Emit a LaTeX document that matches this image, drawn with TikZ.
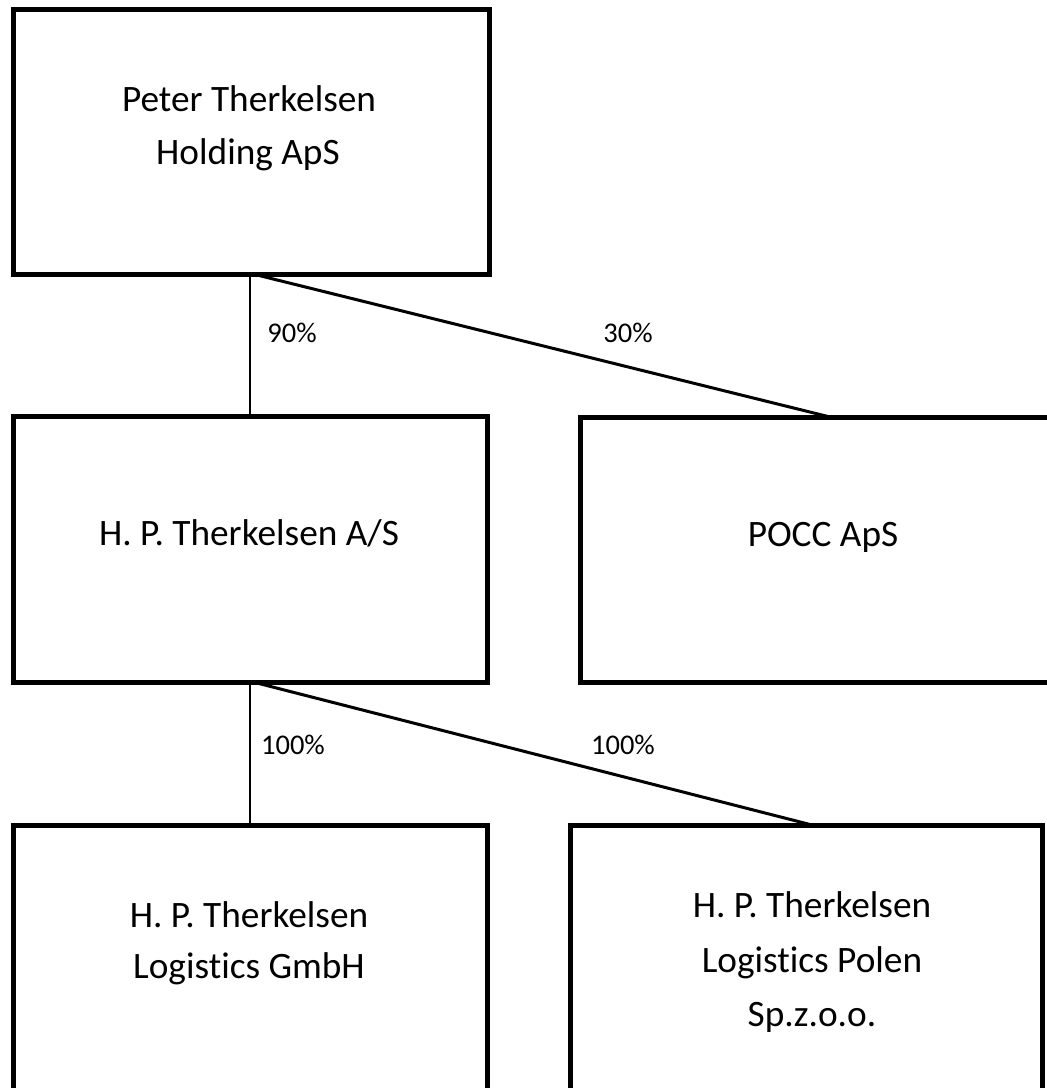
\documentclass[tikz,border=0pt]{standalone}
\usepackage{fontspec}
\setmainfont{Carlito}[Ligatures=NoCommon]
\usetikzlibrary{calc}
\begin{document}
\begin{tikzpicture}[x=1pt,y=-1pt,
  box/.style={draw, line width=5pt, rectangle, inner sep=0pt, outer sep=0pt},
  boxtext/.style={anchor=base, inner sep=0pt, font=\fontsize{37.3}{44}\selectfont},
  pct/.style={anchor=base, inner sep=0pt, font=\fontsize{28.5}{34}\selectfont},
  vline/.style={line width=2pt},
  dline/.style={line width=3pt}]
\useasboundingbox (0,0) rectangle (1047,1088);
\fill[white] (0,0) rectangle (1047,1088);
\clip (0,0) rectangle (1047,1088);
% boxes
\node[box, minimum width=476pt, minimum height=265.5pt] (top) at (251,141.75) {};
\node[box, minimum width=474pt, minimum height=266pt] (hpt) at (250,549.5) {};
\node[box, minimum width=530pt, minimum height=265pt] (pocc) at (845,550) {};
\node[box, minimum width=474pt, minimum height=325pt] (gmbh) at (250,987.5) {};
\node[box, minimum width=472pt, minimum height=325pt] (polen) at (806,987.5) {};
% texts
\node[boxtext] (top1) at (249,111) {Peter Therkelsen};
\node[boxtext] (top2) at (248,164) {Holding ApS};
\node[boxtext] (hpt1) at (249,545) {H. P. Therkelsen A/S};
\node[boxtext] (pocc1) at (823,546) {POCC ApS};
\node[boxtext] (gmbh1) at (249,927) {H. P. Therkelsen};
\node[boxtext] (gmbh2) at (249,978) {Logistics GmbH};
\node[boxtext] (polen1) at (812,917) {H. P. Therkelsen};
\node[boxtext] (polen2) at (812,972) {Logistics Polen};
\node[boxtext] (polen3) at (812,1026) {Sp.z.o.o.};
% connectors
\coordinate (d1s) at ($(top.south)+(4,0)$);
\coordinate (d1e) at ($(pocc.north west)+(252,0)$);
\coordinate (d2s) at ($(hpt.south)+(5,0)$);
\coordinate (d2e) at ($(polen.north west)+(242,0)$);
\draw[vline] (hpt.north) -- (hpt.north |- top.south);
\draw[dline] (d1s) -- (d1e);
\draw[vline] (gmbh.north) -- (gmbh.north |- hpt.south);
\draw[dline] (d2s) -- (d2e);
% percentages
\node[pct] (p90) at (292,342) {90\%};
\node[pct] (p30) at (628,342) {30\%};
\node[pct] (p100a) at (293,754) {100\%};
\node[pct] (p100b) at (623,754) {100\%};
\end{tikzpicture}
\end{document}
